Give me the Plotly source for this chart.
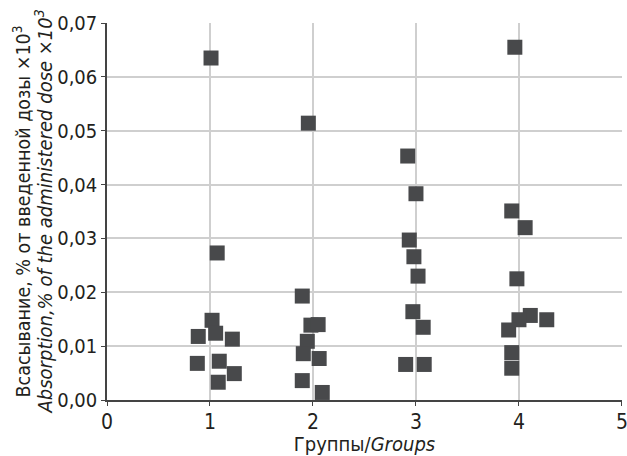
import plotly.graph_objects as go

# Absorption per animal, by group (x jittered around the group number)
g1_x = [1.01, 1.07, 1.02, 0.886, 1.055, 1.217, 0.877, 1.09, 1.236, 1.08]
g1_y = [0.0635, 0.0273, 0.0148, 0.0118, 0.0124, 0.0113, 0.0068, 0.0072, 0.0049, 0.0033]

g2_x = [1.955, 1.896, 1.98, 2.05, 1.945, 1.906, 2.06, 1.896, 2.09]
g2_y = [0.0514, 0.0193, 0.0139, 0.0140, 0.0109, 0.0086, 0.0077, 0.0036, 0.0014]

g3_x = [2.92, 3.00, 2.935, 2.98, 3.02, 2.97, 3.07, 2.90, 3.08]
g3_y = [0.0453, 0.0383, 0.0297, 0.0266, 0.0230, 0.0164, 0.0135, 0.0066, 0.0066]

g4_x = [3.96, 3.93, 4.06, 3.98, 4.11, 4.00, 4.27, 3.90, 3.93, 3.93]
g4_y = [0.0655, 0.0351, 0.0320, 0.0225, 0.0157, 0.0149, 0.0149, 0.0130, 0.0088, 0.0059]

x_ticks = [0, 1, 2, 3, 4, 5]
y_ticks = [0.00, 0.01, 0.02, 0.03, 0.04, 0.05, 0.06, 0.07]

y_title_ru = "Всасывание, % от введенной дозы ×10<sup>3</sup>"
y_title_en = "<i>Absorption,% of the administered dose ×10<sup>3</sup></i>"
x_title = "Группы/<i>Groups</i>"

FONT = "DejaVu Sans Condensed, Liberation Sans Narrow, Roboto, sans-serif"
TEXT = "#231f20"
MARK = "#48494b"
GRID = "#cfcfcf"
AXIS = "#444444"

fig = go.Figure()
fig.add_trace(go.Scatter(
    x=g1_x + g2_x + g3_x + g4_x,
    y=g1_y + g2_y + g3_y + g4_y,
    mode="markers",
    marker=dict(symbol="square", size=15, color=MARK, line=dict(width=0)),
    cliponaxis=False,
    showlegend=False,
))

axis_common = dict(
    showgrid=True, gridcolor=GRID, gridwidth=1.5,
    showline=True, linecolor=AXIS, linewidth=1.5,
    ticks="outside", ticklen=4, tickcolor=AXIS,
    zeroline=False, automargin=False,
    ticklabeloverflow="allow",
)

fig.update_layout(
    width=627, height=456,
    margin=dict(l=107, r=5, t=23, b=56),
    paper_bgcolor="white", plot_bgcolor="white",
    separators=", ",
    font=dict(family=FONT, size=21, color=TEXT),
    xaxis=dict(
        range=[0, 5.0005], tickvals=x_ticks, ticktext=[str(v) for v in x_ticks],
        ticklabelstandoff=-2, tickfont=dict(size=21),
        title=dict(text=x_title, font=dict(size=20), standoff=10),
        **axis_common,
    ),
    yaxis=dict(
        range=[0, 0.07], tickvals=y_ticks, tickformat=".2f",
        tickfont=dict(size=20),
        **axis_common,
    ),
)

# two-line y-axis title, one annotation per language
fig.add_annotation(
    text=y_title_ru, textangle=-90, showarrow=False,
    xref="paper", yref="paper", x=0, y=0.5,
    xanchor="center", yanchor="middle", xshift=-86,
    font=dict(size=19.5, color=TEXT, family=FONT),
)
fig.add_annotation(
    text=y_title_en, textangle=-90, showarrow=False,
    xref="paper", yref="paper", x=0, y=0.5,
    xanchor="center", yanchor="middle", xshift=-64,
    font=dict(size=20, color=TEXT, family=FONT),
)

fig.write_html("out.html")
